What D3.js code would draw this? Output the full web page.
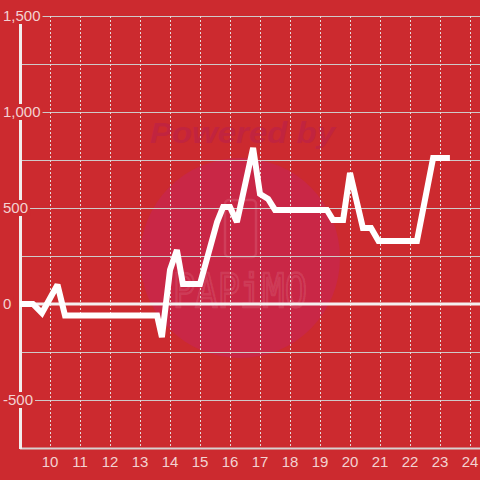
<!DOCTYPE html>
<html><head><meta charset="utf-8">
<script src="https://cdn.jsdelivr.net/npm/d3@7"></script>
<style>
html, body { margin: 0; padding: 0; background: #cc2a2f; }
svg { display: block; }
.tick-label { font-family: "Liberation Sans", Arial, sans-serif; font-size: 15px; fill: #f3d2d2; }
</style></head><body>
<svg id="chart" width="480" height="480"></svg>
<script>
// hours of the day (x) and values (y)
const hours = [9.0, 9.43, 9.73, 10.25, 10.5, 13.57, 13.73, 14.0, 14.23, 14.43, 15.0, 15.57, 15.77, 16.0, 16.23, 16.77, 17.0, 17.27, 17.5, 19.23, 19.43, 19.77, 20.0, 20.43, 20.7, 20.95, 22.23, 22.77, 23.33];
const values = [0, 0, -47, 100, -60, -60, -172, 177, 281, 104, 104, 427, 505, 505, 427, 813, 573, 547, 490, 490, 438, 438, 682, 396, 396, 328, 328, 760, 760];
const xTicks = [10, 11, 12, 13, 14, 15, 16, 17, 18, 19, 20, 21, 22, 23, 24];
const yGrid = [-500, -250, 0, 250, 500, 750, 1000, 1250, 1500];
const yLabels = [-500, 0, 500, 1000, 1500];

const bg = "#cc2a2f";
const svg = d3.select("#chart");
const x = d3.scaleLinear().domain([9, 24.333]).range([20, 480]);
const y = d3.scaleLinear().domain([-750, 1500]).range([448, 16]);

svg.append("rect").attr("width", 480).attr("height", 480).attr("fill", bg);

// watermark
const wm = svg.append("g");
wm.append("circle").attr("cx", 240).attr("cy", 258).attr("r", 100).attr("fill", "#c92746");
wm.append("text")
    .attr("x", 150).attr("y", 143)
    .attr("textLength", 185).attr("lengthAdjust", "spacingAndGlyphs")
    .style("font-family", "Liberation Sans, Arial, sans-serif")
    .style("font-size", "29px").style("font-weight", "bold").style("font-style", "italic")
    .attr("fill", "#c1243f")
    .text("Powered by");
wm.append("rect")
    .attr("x", 225).attr("y", 200).attr("width", 31).attr("height", 57).attr("rx", 4)
    .attr("fill", "none").attr("stroke", "rgba(255,255,255,0.11)").attr("stroke-width", 2.5);
wm.append("text")
    .attr("x", 173).attr("y", 307)
    .attr("textLength", 134).attr("lengthAdjust", "spacingAndGlyphs")
    .style("font-family", "DejaVu Sans Mono, monospace")
    .style("font-size", "46px")
    .attr("fill", "none").attr("stroke", "rgba(255,255,255,0.11)").attr("stroke-width", 2.5)
    .text("PAPiMO");

// horizontal grid
svg.append("g").selectAll("line")
    .data(yGrid.filter(d => d !== 0))
    .join("line")
    .attr("x1", 20).attr("x2", 480)
    .attr("y1", d => Math.round(y(d)) + 0.5).attr("y2", d => Math.round(y(d)) + 0.5)
    .attr("stroke", "#cfc9c9").attr("stroke-width", 1);

// vertical dotted grid
svg.append("g").selectAll("line")
    .data(xTicks)
    .join("line")
    .attr("x1", d => Math.round(x(d)) + 0.5).attr("x2", d => Math.round(x(d)) + 0.5)
    .attr("y1", 16).attr("y2", 448)
    .attr("stroke", "#e6dada").attr("stroke-width", 1).attr("stroke-dasharray", "2,2");

// zero line
svg.append("line")
    .attr("x1", 20).attr("x2", 480)
    .attr("y1", y(0)).attr("y2", y(0))
    .attr("stroke", "#f4f0f0").attr("stroke-width", 3);

// bottom axis line
svg.append("line")
    .attr("x1", 20).attr("x2", 480)
    .attr("y1", 448.5).attr("y2", 448.5)
    .attr("stroke", "#d8d0d0").attr("stroke-width", 2);

// y axis line
svg.append("line")
    .attr("x1", 20.5).attr("x2", 20.5)
    .attr("y1", 16).attr("y2", 449)
    .attr("stroke", "#f2eeee").attr("stroke-width", 3);

// y labels with background (plain hyphen for negatives)
const fmt = d => d3.format(",")(d).replace("\u2212", "-");
const yl = svg.append("g").selectAll("g")
    .data(yLabels)
    .join("g")
    .attr("transform", d => `translate(3,${y(d)})`);
yl.append("text")
    .attr("class", "tick-label")
    .attr("dy", "0.35em")
    .text(d => fmt(d));
yl.each(function() {
    const g = d3.select(this);
    const b = g.select("text").node().getBBox();
    g.insert("rect", "text")
        .attr("x", b.x - 1).attr("y", -8).attr("width", b.width + 3).attr("height", 16)
        .attr("fill", bg);
});

// x labels
svg.append("g").selectAll("text")
    .data(xTicks)
    .join("text")
    .attr("class", "tick-label")
    .attr("x", d => x(d)).attr("y", 467)
    .attr("text-anchor", "middle")
    .text(d => d);

// data line
const line = d3.line().x((d, i) => x(hours[i])).y(d => y(d));
svg.append("path")
    .datum(values)
    .attr("d", line)
    .attr("fill", "none")
    .attr("stroke", "#ffffff")
    .attr("stroke-width", 6)
    .attr("stroke-linejoin", "miter")
    .attr("stroke-miterlimit", 2);
</script></body></html>
